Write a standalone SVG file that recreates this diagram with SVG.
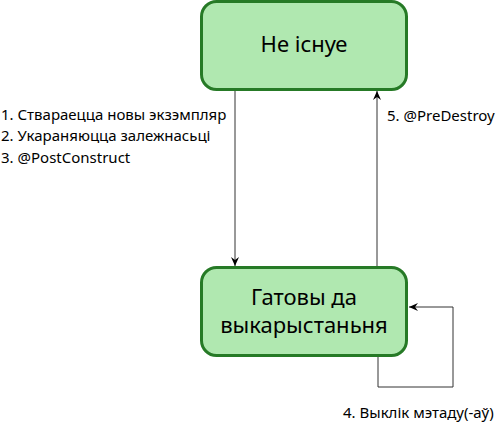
<svg xmlns="http://www.w3.org/2000/svg" width="500" height="423" viewBox="0 0 500 423">
<defs>
<marker id="arr" markerWidth="10" markerHeight="10" refX="9" refY="5" orient="auto" markerUnits="userSpaceOnUse">
<path d="M0,1 L9,5 L0,9 L3,5 Z" fill="#000"/>
</marker>
<style>
.node{fill:#b0e8b0;stroke:#267a26;stroke-width:3}
.nt{font-family:"Noto Sans","Open Sans",sans-serif;font-size:22px;fill:#000;text-anchor:middle}
.lbl{font-family:"Noto Sans","Open Sans",sans-serif;font-size:15px;fill:#000}
.edge{fill:none;stroke:#333;stroke-width:1}
</style>
</defs>
<rect width="500" height="423" fill="#fff"/>
<g id="connectors">
<path class="edge" d="M235,90 L235,266" marker-end="url(#arr)"/>
<path class="edge" d="M377,268 L377,91" marker-end="url(#arr)"/>
<path class="edge" d="M378,356 L378,387 L453,387 L453,307 L409,307" marker-end="url(#arr)"/>
</g>
<g id="node-not-exists">
<rect class="node" x="201.5" y="1.5" width="205" height="88" rx="15"/>
<text class="nt" x="304" y="52">Не існуе</text>
</g>
<g id="node-ready">
<rect class="node" x="201.5" y="267.5" width="205" height="88" rx="15"/>
<text class="nt" x="304" y="305">Гатовы да</text>
<text class="nt" x="304" y="333">выкарыстаньня</text>
</g>
<g id="labels">
<text class="lbl" x="1" y="120">1. Ствараецца новы экзэмпляр</text>
<text class="lbl" x="1" y="141">2. Укараняюцца залежнасьці</text>
<text class="lbl" x="1" y="163">3. @PostConstruct</text>
<text class="lbl" x="387" y="121">5. @PreDestroy</text>
<text class="lbl" x="343" y="418">4. Выклік мэтаду(-аў)</text>
</g>
</svg>
